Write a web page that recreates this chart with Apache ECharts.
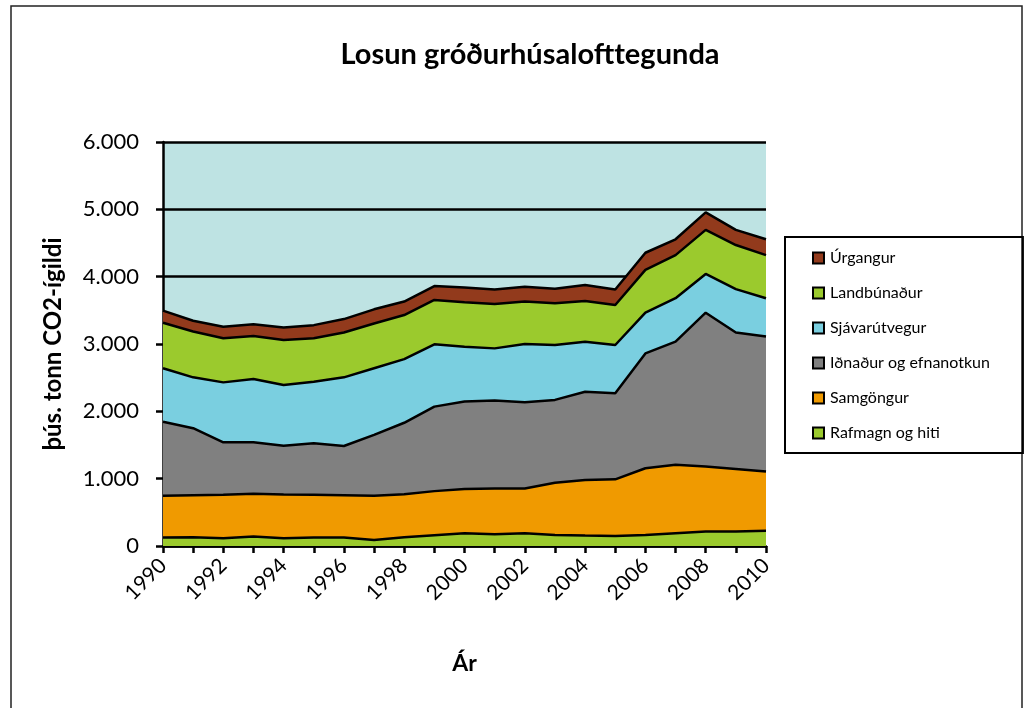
<!DOCTYPE html>
<html>
<head>
<meta charset="utf-8">
<script src="https://cdn.jsdelivr.net/npm/echarts@6/dist/echarts.min.js"></script>
<style>
  html, body { margin: 0; padding: 0; background: #fff; }
  #chart-container { width: 1028px; height: 708px; }
</style>
</head>
<body>
<div id="chart-container"></div>
<script>
var years = ["1990","1991","1992","1993","1994","1995","1996","1997","1998","1999","2000",
  "2001","2002","2003","2004","2005","2006","2007","2008","2009","2010"];

// þús. tonn CO2-ígildi
var rafmagn = [125,130,115,140,115,125,125,90,130,160,190,175,190,165,155,150,165,190,215,215,225];
var samgongur = [620,625,645,635,650,635,630,655,640,655,655,680,665,775,825,840,990,1015,965,930,880];
var idnadur = [1100,995,780,765,725,765,730,905,1060,1255,1300,1305,1280,1230,1310,1280,1705,1830,2285,2025,2005];
var sjavarutvegur = [795,755,890,940,900,915,1020,990,945,925,815,775,865,815,745,715,605,645,575,645,570];
var landbunadur = [675,680,655,640,670,645,665,665,655,660,660,660,630,620,605,595,635,640,655,655,640];
var urgangur = [180,160,170,175,185,195,200,210,200,205,220,215,220,215,235,230,255,235,260,225,235];

var seriesNames = ["Rafmagn og hiti", "Samgöngur", "Iðnaður og efnanotkun", "Sjávarútvegur", "Landbúnaður", "Úrgangur"];
var seriesData = [rafmagn, samgongur, idnadur, sjavarutvegur, landbunadur, urgangur];
var seriesColors = ["#9bca2d", "#f09a00", "#808080", "#7acfe0", "#9bca2d", "#923a1c"];

var font = "Lato, 'Open Sans', sans-serif";

var dom = document.getElementById("chart-container");
var myChart = echarts.init(dom, null, { renderer: "canvas" });

var series = seriesNames.map(function (name, i) {
  return {
    name: name,
    type: "line",
    stack: "total",
    data: seriesData[i],
    symbol: "none",
    lineStyle: { color: "#000", width: 2.5 },
    itemStyle: { color: seriesColors[i] },
    areaStyle: { color: seriesColors[i], opacity: 1 },
    emphasis: { disabled: true },
  };
});

var option = {
  animation: false,
  textStyle: { fontFamily: font },
  graphic: [
    {
      type: "rect",
      shape: { x: 11, y: 6, width: 1011, height: 720 },
      style: { fill: null, stroke: "#222", lineWidth: 1.5 },
      silent: true,
    },
  ],
  title: {
    text: "Losun gróðurhúsalofttegunda",
    left: 525,
    textAlign: "center",
    top: 35,
    textStyle: { fontFamily: font, fontSize: 29, fontWeight: "bold", color: "#000" },
  },
  grid: {
    left: 163,
    right: 262,
    top: 142,
    bottom: 162,
    show: true,
    backgroundColor: "#bee3e3",
    borderWidth: 0,
  },
  legend: {
    orient: "vertical",
    left: 785,
    top: 237,
    padding: [13, 33, 12, 27],
    itemGap: 19,
    itemWidth: 11,
    itemHeight: 11,
    icon: "rect",
    borderColor: "#000",
    borderWidth: 2,
    itemStyle: { borderColor: "#000", borderWidth: 2 },
    data: seriesNames.slice().reverse(),
    textStyle: { fontFamily: font, fontSize: 16, color: "#000", padding: [0, 0, 0, 1] },
  },
  xAxis: {
    type: "category",
    data: years,
    boundaryGap: false,
    name: "Ár",
    nameLocation: "middle",
    nameGap: 106,
    nameTextStyle: { fontFamily: font, fontSize: 23, fontWeight: "bold", color: "#000" },
    axisLine: { lineStyle: { color: "#000", width: 2.5 } },
    axisTick: { show: true, interval: 0, length: 7, lineStyle: { color: "#000", width: 2.5 } },
    axisLabel: {
      interval: 1,
      rotate: 45,
      margin: 16,
      fontFamily: font,
      fontSize: 21,
      color: "#000",
    },
    splitLine: { show: false },
  },
  yAxis: {
    type: "value",
    min: 0,
    max: 6000,
    interval: 1000,
    name: "þús. tonn CO2-ígildi",
    nameLocation: "middle",
    nameGap: 98,
    nameTextStyle: { fontFamily: font, fontSize: 24, fontWeight: "bold", color: "#000" },
    axisLine: { show: true, lineStyle: { color: "#000", width: 2.5 } },
    axisTick: { show: true, length: 7, lineStyle: { color: "#000", width: 2.5 } },
    axisLabel: {
      margin: 24,
      fontFamily: font,
      fontSize: 22,
      color: "#000",
      formatter: function (v) {
        return String(v).replace(/\B(?=(\d{3})+(?!\d))/g, ".");
      },
    },
    splitLine: { show: true, lineStyle: { color: "#000", width: 2.5 } },
  },
  series: series,
};

myChart.setOption(option);
window.addEventListener("resize", myChart.resize);
</script>
</body>
</html>
